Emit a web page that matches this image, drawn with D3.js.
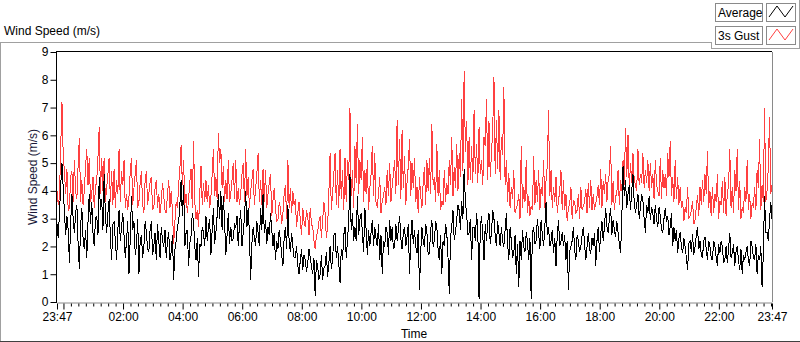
<!DOCTYPE html>
<html>
<head>
<meta charset="utf-8">
<script src="https://cdn.jsdelivr.net/npm/d3@7"></script>
<style>
  body { margin: 0; background: #fff; }
  svg { display: block; font-family: "Liberation Sans", Arial, sans-serif; font-size: 12px; }
  .line { fill: none; stroke-width: 1; shape-rendering: crispEdges; }
</style>
</head>
<body>
<div id="chart"></div>
<script>
// samples on the 5 minute marks, 23:47 -> 23:47 next day, one row per hour
var gust = [
  4.0, 3.8, 7.2, 4.7, 4.8, 3.4, 4.7, 5.1, 3.7, 5.9, 4.4, 4.0,
  5.5, 5.2, 3.9, 3.4, 4.4, 6.3, 5.2, 5.2, 4.1, 5.2, 4.7, 4.8,
  4.4, 5.5, 4.7, 5.1, 3.9, 3.8, 5.2, 4.1, 5.1, 3.6, 4.7, 3.2,
  4.7, 3.9, 4.5, 3.4, 4.4, 3.9, 3.6, 3.8, 3.2, 4.4, 4.0, 2.1,
  3.6, 4.2, 5.65, 5.1, 3.9, 3.7, 4.8, 5.8, 3.0, 2.7, 4.9, 4.3,
  4.4, 4.2, 3.8, 5.5, 4.5, 6.1, 5.5, 4.9, 4.4, 5.1, 3.9, 5.0,
  5.1, 4.1, 3.9, 5.0, 5.5, 4.5, 4.0, 4.8, 4.1, 5.35, 4.4, 4.8,
  4.75, 3.9, 4.6, 3.65, 3.4, 2.95, 3.4, 3.2, 4.2, 5.1, 4.1, 4.0,
  3.7, 3.2, 2.95, 3.4, 2.7, 3.1, 3.4, 2.7, 1.9, 2.5, 3.1, 2.95,
  3.2, 2.7, 5.35, 3.9, 5.35, 4.75, 5.5, 4.75, 5.2, 5.1, 7.0, 4.75,
  5.6, 6.4, 5.1, 5.95, 4.75, 5.1, 4.1, 5.6, 5.35, 3.4, 4.5, 3.65,
  4.15, 4.75, 5.0, 4.15, 5.1, 6.55, 5.85, 6.2, 5.25, 4.3, 5.85, 5.0,
  5.2, 4.15, 4.5, 3.4, 4.85, 5.1, 5.2, 6.4, 4.5, 5.7, 4.75, 3.65,
  4.75, 4.3, 5.1, 5.95, 4.85, 5.7, 5.35, 7.3, 8.3, 6.5, 5.95, 5.6,
  6.9, 5.7, 6.3, 5.1, 5.95, 7.3, 6.5, 5.35, 8.1, 6.55, 6.9, 5.95,
  7.75, 5.1, 4.65, 4.15, 4.75, 3.4, 3.9, 5.6, 4.15, 5.1, 3.8, 3.45,
  5.25, 4.4, 4.75, 4.15, 5.1, 4.4, 6.9, 4.75, 4.15, 4.5, 3.65, 4.75,
  4.4, 3.9, 3.4, 4.15, 3.65, 3.2, 3.9, 4.15, 3.45, 4.05, 4.3, 4.4,
  3.9, 3.55, 4.2, 4.8, 4.35, 4.6, 4.4, 5.6, 4.35, 3.8, 4.75, 4.4,
  5.1, 6.25, 6.0, 5.0, 5.35, 4.2, 5.5, 4.6, 5.35, 4.75, 5.1, 5.0,
  4.6, 5.1, 4.0, 5.2, 4.75, 4.6, 5.35, 5.8, 4.5, 5.1, 4.5, 4.15,
  3.65, 3.4, 4.15, 3.1, 3.65, 2.95, 3.85, 4.15, 4.4, 4.6, 5.45, 4.0,
  4.15, 3.9, 4.6, 3.65, 4.35, 4.5, 3.9, 5.5, 4.15, 4.75, 5.5, 4.35,
  3.4, 4.15, 5.1, 3.9, 3.55, 4.15, 4.75, 5.85, 4.2, 7.0, 4.0, 6.65,
  4.2
];

// samples half way between the 5 minute marks
var gustMid = [
  3.5, 5.6, 5.3, 3.9, 3.3, 4.5, 3.6, 4.0, 4.9, 3.6, 3.5, 4.9,
  4.2, 3.6, 4.5, 4.1, 5.2, 3.9, 4.0, 3.6, 4.6, 3.6, 3.5, 3.4,
  3.9, 3.6, 4.2, 3.4, 3.3, 4.7, 3.5, 4.6, 3.4, 4.3, 3.5, 4.4,
  3.5, 4.3, 3.3, 4.1, 3.4, 3.2, 4.3, 3.3, 3.9, 3.4, 3.3, 2.9,
  3.4, 4.8, 4.2, 3.5, 3.2, 4.3, 3.4, 3.6, 3.3, 3.9, 3.5, 3.6,
  3.6, 3.4, 4.6, 3.8, 3.7, 5.0, 4.1, 3.6, 3.7, 3.6, 4.4, 3.7,
  3.6, 3.5, 4.6, 3.6, 3.8, 3.4, 4.4, 3.5, 4.6, 3.6, 3.5, 3.6,
  3.4, 4.3, 3.1, 4.1, 2.9, 3.6, 2.8, 3.9, 3.0, 3.4, 3.2, 3.5,
  2.7, 3.6, 2.4, 2.9, 3.3, 2.4, 2.8, 2.2, 2.4, 2.9, 2.3, 3.6,
  2.3, 3.9, 3.3, 4.6, 3.5, 3.4, 3.7, 3.3, 3.6, 4.4, 3.8, 3.4,
  4.3, 3.9, 4.4, 3.6, 3.9, 3.3, 4.6, 3.8, 3.6, 3.9, 3.2, 3.8,
  3.5, 3.8, 3.6, 4.6, 3.9, 4.2, 3.7, 4.1, 3.5, 4.9, 3.8, 4.1,
  3.6, 3.2, 3.8, 4.3, 3.5, 4.0, 3.9, 4.2, 3.6, 3.8, 3.3, 3.5,
  3.6, 3.9, 4.2, 3.8, 4.1, 4.0, 4.5, 4.7, 5.4, 4.2, 4.4, 4.3,
  4.6, 4.3, 4.6, 4.2, 5.6, 4.4, 4.5, 6.2, 4.6, 4.8, 4.4, 5.3,
  4.2, 3.6, 3.4, 3.7, 3.2, 3.5, 3.0, 3.4, 3.6, 3.2, 3.1, 3.3,
  3.5, 3.6, 3.3, 3.8, 3.4, 4.9, 3.8, 3.4, 3.6, 3.2, 4.0, 3.3,
  3.3, 2.9, 3.5, 3.0, 3.6, 3.3, 3.0, 3.3, 3.6, 3.2, 3.4, 3.3,
  3.3, 3.8, 3.5, 3.4, 3.9, 3.6, 4.6, 3.5, 3.3, 3.9, 3.5, 4.0,
  4.2, 4.5, 4.1, 4.3, 4.4, 4.0, 4.2, 4.3, 4.1, 4.3, 4.0, 4.1,
  3.7, 4.2, 3.8, 3.7, 4.1, 3.8, 4.5, 3.8, 3.6, 3.7, 3.5, 3.4,
  2.9, 3.2, 3.0, 3.3, 2.8, 3.4, 3.1, 3.5, 3.6, 3.9, 3.4, 3.1,
  3.2, 3.6, 3.0, 3.5, 3.2, 3.1, 4.2, 3.4, 3.2, 4.0, 3.3, 3.0,
  3.2, 3.6, 3.3, 3.0, 3.4, 3.3, 4.1, 3.3, 3.6, 3.6, 4.8, 3.9
];

var average = [
  2.8, 3.2, 5.0, 3.2, 3.1, 1.4, 3.9, 2.5, 3.5, 1.2, 3.4, 1.9,
  1.6, 3.9, 3.6, 2.0, 3.1, 4.5, 3.7, 4.6, 2.5, 3.7, 1.5, 2.9,
  1.5, 3.3, 2.7, 2.4, 2.2, 1.0, 3.8, 2.9, 2.0, 1.0, 2.4, 2.0,
  2.5, 1.8, 2.9, 2.0, 1.5, 2.2, 2.7, 2.0, 1.6, 2.5, 1.8, 0.8,
  2.2, 2.9, 4.4, 4.2, 2.5, 1.3, 2.4, 2.9, 1.5, 0.9, 2.0, 2.5,
  3.1, 2.7, 1.7, 3.4, 2.5, 3.9, 4.0, 3.8, 1.7, 3.2, 2.7, 2.3,
  2.7, 2.0, 3.3, 2.5, 4.0, 3.4, 0.8, 2.7, 2.0, 2.5, 3.4, 3.9,
  2.95, 2.7, 3.2, 2.0, 1.5, 1.9, 2.2, 1.3, 2.7, 3.5, 1.8, 2.0,
  1.6, 1.3, 1.5, 1.15, 1.5, 1.4, 1.6, 1.0, 0.2, 1.3, 1.0, 0.8,
  1.3, 0.9, 2.0, 1.5, 2.5, 2.0, 0.7, 1.5, 2.7, 2.2, 4.6, 3.2,
  2.7, 3.8, 2.95, 2.5, 3.4, 1.7, 2.0, 2.95, 2.7, 2.0, 1.5, 1.0,
  2.0, 2.5, 2.95, 2.7, 2.0, 2.2, 3.1, 1.9, 2.7, 2.35, 1.0, 2.95,
  2.6, 1.75, 0.45, 2.7, 2.0, 2.5, 1.75, 2.95, 2.2, 2.7, 1.5, 1.0,
  2.0, 2.5, 0.3, 2.7, 2.25, 2.95, 3.3, 3.65, 4.8, 3.2, 2.5, 1.5,
  2.7, 3.2, 0.1, 3.1, 1.5, 2.2, 3.2, 2.5, 3.0, 2.0, 2.5, 2.7,
  2.0, 3.2, 1.5, 2.2, 1.75, 1.0, 0.55, 1.5, 2.0, 2.5, 1.5, 0.1,
  2.7, 2.2, 2.5, 2.95, 2.0, 3.6, 2.7, 2.2, 1.75, 1.3, 2.95, 2.2,
  2.0, 1.5, 0.45, 2.0, 2.7, 1.5, 2.2, 2.0, 2.7, 1.5, 2.5, 1.75,
  2.0, 1.3, 2.7, 2.45, 2.2, 3.4, 2.5, 3.4, 2.95, 2.35, 2.5, 1.75,
  4.9, 4.4, 3.9, 3.3, 4.6, 3.2, 3.9, 3.4, 3.65, 2.5, 3.2, 2.95,
  3.2, 3.5, 2.7, 3.1, 2.5, 3.4, 3.1, 2.7, 2.0, 2.2, 1.75, 2.5,
  1.75, 2.0, 1.15, 2.2, 2.45, 2.0, 2.7, 2.2, 1.6, 2.35, 1.5, 2.0,
  1.5, 2.0, 1.3, 1.75, 2.0, 1.5, 1.4, 2.5, 1.75, 1.3, 2.0, 1.15,
  1.0, 1.5, 2.0, 1.3, 2.0, 1.5, 1.0, 1.5, 0.55, 3.8, 2.5, 2.95,
  3.0
];

var averageMid = [
  2.3, 4.2, 4.1, 2.4, 2.6, 2.8, 3.0, 3.2, 2.1, 2.7, 2.3, 2.6,
  2.9, 2.8, 2.5, 3.0, 2.4, 3.3, 2.6, 3.1, 3.2, 2.3, 2.8, 2.2,
  2.6, 2.2, 3.2, 1.6, 2.9, 2.3, 2.6, 1.7, 3.0, 2.2, 1.6, 2.9,
  1.9, 2.6, 1.7, 2.5, 2.8, 1.6, 2.2, 2.6, 2.2, 1.5, 2.4, 1.9,
  2.7, 3.5, 3.1, 2.0, 2.6, 2.1, 3.2, 2.0, 2.3, 2.1, 2.7, 2.0,
  2.2, 3.0, 2.6, 2.1, 3.1, 3.0, 2.6, 2.9, 2.4, 2.1, 2.2, 2.8,
  3.1, 2.8, 2.0, 3.0, 2.7, 2.5, 2.1, 2.3, 2.9, 2.0, 2.6, 2.5,
  2.1, 2.4, 2.6, 2.5, 2.2, 2.6, 1.7, 2.3, 1.9, 2.2, 2.5, 1.6,
  2.0, 1.0, 1.9, 1.7, 1.1, 1.9, 1.3, 1.6, 1.5, 0.8, 1.7, 1.2,
  1.8, 1.4, 1.2, 2.4, 1.6, 1.4, 1.9, 2.4, 1.6, 2.9, 2.6, 2.2,
  2.2, 2.4, 3.2, 1.8, 2.6, 2.6, 2.5, 2.0, 2.3, 2.8, 2.4, 2.2,
  2.7, 1.7, 2.2, 1.9, 2.8, 2.6, 2.3, 2.5, 2.0, 2.8, 2.3, 2.1,
  2.0, 2.6, 1.8, 2.2, 2.8, 1.7, 2.6, 2.0, 2.9, 1.9, 2.4, 2.2,
  2.8, 1.6, 2.3, 3.3, 2.5, 3.5, 2.6, 3.0, 3.6, 2.4, 3.0, 2.7,
  2.2, 2.6, 2.7, 2.4, 2.8, 2.9, 2.1, 3.3, 2.4, 2.9, 2.0, 2.2,
  2.6, 2.1, 2.7, 1.6, 2.4, 2.1, 2.2, 2.6, 1.8, 2.2, 2.3, 2.5,
  2.1, 3.0, 1.9, 2.4, 2.7, 2.4, 2.0, 2.6, 2.3, 2.4, 2.0, 2.5,
  2.4, 2.2, 1.8, 2.2, 1.9, 2.4, 1.8, 2.4, 2.1, 2.0, 1.9, 2.3,
  2.5, 2.2, 1.8, 2.9, 2.7, 2.7, 3.0, 2.4, 2.6, 2.9, 2.1, 3.0,
  3.8, 3.4, 4.2, 4.0, 3.6, 3.5, 3.0, 3.9, 3.0, 3.5, 3.8, 3.4,
  2.8, 3.0, 3.4, 2.6, 3.0, 2.9, 2.4, 3.2, 2.7, 2.6, 2.3, 2.0,
  2.3, 1.6, 2.1, 1.8, 1.7, 2.4, 1.9, 1.7, 2.2, 1.9, 2.2, 1.6,
  2.2, 1.6, 2.1, 2.2, 1.4, 2.0, 1.9, 1.6, 2.1, 1.8, 1.5, 1.9,
  1.7, 1.8, 1.5, 2.2, 1.6, 2.1, 1.7, 2.0, 1.7, 2.5, 2.2, 3.6
];

var yTicks = [0, 1, 2, 3, 4, 5, 6, 7, 8, 9];
var seriesNames = ["Average", "3s Gust"];
var seriesColors = ["#000000", "#ff4040"];
var stepMinutes = 2.5;

(function () {
var width = 800, height = 342;
var plotLeft = 57, plotRight = 772, plotTop = 52, plotBottom = 302;

// weave the on-mark and half-way samples into one series
var weave = function (marks, mids) {
    var out = [];
    marks.forEach(function (v, i) {
        out.push(v);
        if (i < mids.length) out.push(mids[i]);
    });
    return out;
};
var gustSeries = weave(gust, gustMid);
var averageSeries = weave(average, averageMid);

var t0 = new Date(2020, 0, 1, 23, 47);
var t1 = d3.timeDay.offset(t0, 1);
var timeOf = function (i) { return new Date(+t0 + i * stepMinutes * 60000); };

var svg = d3.select("#chart").append("svg")
    .attr("width", width)
    .attr("height", height);

// outer frame
var frame = svg.append("g").attr("stroke", "#a0a0a0").attr("fill", "none").attr("shape-rendering", "crispEdges");
frame.append("path").attr("d", "M0.5,341 V42.5 H711.5 V48.5 H799.5 V0");
frame.append("path").attr("d", "M0,341.5 H800").attr("stroke", "#404040");

svg.append("text").attr("x", 4).attr("y", 35).text("Wind Speed (m/s)");

var x = d3.scaleTime().domain([t0, t1]).range([plotLeft, plotRight]);
var y = d3.scaleLinear().domain([0, 9]).range([plotBottom, plotTop]);

// plot area border
var border = svg.append("g").attr("fill", "none").attr("shape-rendering", "crispEdges");
border.append("line").attr("x1", plotLeft).attr("x2", plotRight).attr("y1", plotTop - 0.5).attr("y2", plotTop - 0.5).attr("stroke", "#000");
border.append("line").attr("x1", plotRight + 0.5).attr("x2", plotRight + 0.5).attr("y1", plotTop).attr("y2", plotBottom).attr("stroke", "#8a8a8a");

// series: gust under average
var line = d3.line()
    .x(function (d, i) { return x(timeOf(i)); })
    .y(function (d) { return y(d); });

svg.append("path").datum(gustSeries).attr("class", "line").attr("stroke", seriesColors[1]).attr("d", line);
svg.append("path").datum(averageSeries).attr("class", "line").attr("stroke", seriesColors[0]).attr("d", line);

// y axis
var yAxis = svg.append("g")
    .attr("transform", "translate(" + (plotLeft - 0.5) + ",0)")
    .call(d3.axisLeft(y).tickValues(yTicks).tickSize(6).tickPadding(2).tickFormat(d3.format("d")));
yAxis.selectAll("text").attr("font-size", 12).attr("font-family", "Liberation Sans, Arial, sans-serif").attr("fill", "#000");
yAxis.select(".domain").attr("stroke", "#000").attr("d", "M0," + (plotTop - 1) + "V" + (plotBottom + 1));

svg.append("text")
    .attr("transform", "translate(37," + ((plotTop + plotBottom) / 2 + 0) + ") rotate(-90)")
    .attr("text-anchor", "middle")
    .attr("fill", "#1a1a3a")
    .text("Wind Speed (m/s)");

// x axis: ticks every 15 minutes, labels every 2 hours plus the ends
var quarter = d3.timeMinute.every(15).range(d3.timeMinute.offset(t0, 1), t1);
var xTickValues = [t0].concat(quarter, [t1]);
var fmt = d3.timeFormat("%H:%M");
var isEnd = function (d) { return +d === +t0 || +d === +t1; };
var isMajor = function (d) { return isEnd(d) || (d.getMinutes() === 0 && d.getHours() % 2 === 0); };

var xAxis = svg.append("g")
    .attr("transform", "translate(0," + (plotBottom + 0.5) + ")")
    .call(d3.axisBottom(x).tickValues(xTickValues).tickSizeOuter(0).tickPadding(3)
        .tickFormat(function (d) {
            if (isEnd(d)) return fmt(d);
            if (d.getMinutes() === 0 && d.getHours() % 2 === 0 && d.getHours() !== 0) return fmt(d);
            return "";
        }));
xAxis.select(".domain").attr("stroke", "#8a8a8a");
xAxis.selectAll(".tick line")
    .attr("stroke", "#000")
    .attr("y1", 1)
    .attr("y2", function (d) { return isMajor(d) ? 7 : 4; });
xAxis.selectAll("text").attr("font-size", 12).attr("font-family", "Liberation Sans, Arial, sans-serif").attr("fill", "#000").attr("y", 10);

svg.append("text").attr("x", 414).attr("y", 338).attr("text-anchor", "middle").text("Time");

// legend
var legend = svg.append("g").attr("shape-rendering", "crispEdges");
seriesNames.forEach(function (name, i) {
    var g = legend.append("g").attr("transform", "translate(0," + (i * 23) + ")");
    g.append("rect").attr("x", 715.5).attr("y", 3.5).attr("width", 47).attr("height", 18)
        .attr("fill", "#fff").attr("stroke", "#8a8a8a");
    g.append("text").attr("x", 718).attr("y", 17).text(name);
    g.append("rect").attr("x", 766.5).attr("y", 3.5).attr("width", 29).attr("height", 18)
        .attr("fill", "#fff").attr("stroke", "#8a8a8a");
    var glyph = [[769, 17], [777, 6], [785, 17], [793, 6]];
    g.append("path").attr("fill", "none").attr("stroke", seriesColors[i]).attr("shape-rendering", "auto")
        .attr("d", d3.line()(glyph));
});
})();
</script>
</body>
</html>
